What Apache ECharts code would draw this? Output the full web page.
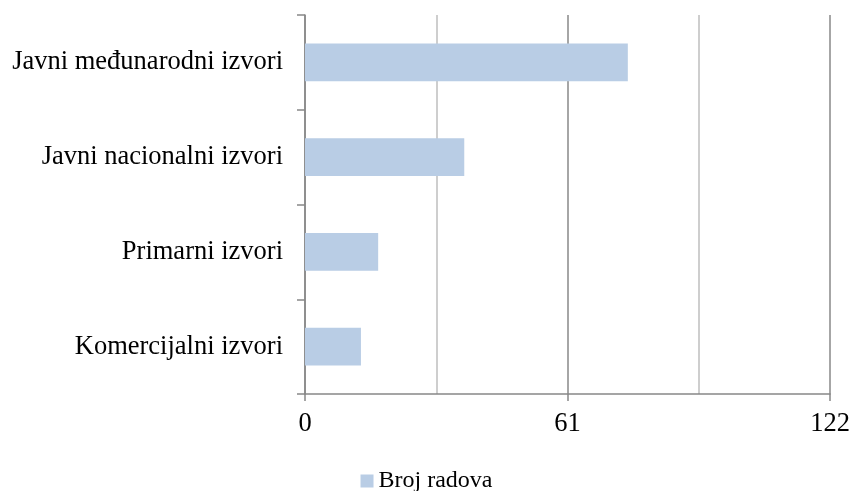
<!DOCTYPE html>
<html><head><meta charset="utf-8">
<script src="https://cdn.jsdelivr.net/npm/echarts@6/dist/echarts.min.js"></script>
<style>html,body{margin:0;padding:0;background:#fff}#c{width:853px;height:491px}</style>
</head><body><div id="c"></div>
<script>
const categories = ["Javni međunarodni izvori", "Javni nacionalni izvori", "Primarni izvori", "Komercijalni izvori"];
const seriesName = "Broj radova";
const values = [75, 37, 17, 13];
const xTicks = [0, 61, 122];

const font = "'Liberation Serif','Times New Roman',serif";
const chart = echarts.init(document.getElementById('c'));
chart.setOption({
  animation: false,
  textStyle: { fontFamily: font },
  grid: { left: 305, right: 22, top: 15, bottom: 97, containLabel: false },
  legend: {
    top: 464, left: 'center', icon: 'rect', itemWidth: 13, itemHeight: 13, itemGap: 5,
    textStyle: { fontFamily: font, fontSize: 24, color: '#000' },
    data: [seriesName]
  },
  xAxis: {
    type: 'value', min: xTicks[0], max: xTicks[2], interval: xTicks[1] - xTicks[0],
    axisLine: { show: true, lineStyle: { color: '#888', width: 1.5 } },
    axisTick: { show: true, length: 7, lineStyle: { color: '#888', width: 1.5 } },
    axisLabel: { color: '#000', fontSize: 26.5, fontFamily: font, margin: 17 },
    splitLine: { show: true, lineStyle: { color: '#888', width: 1.5 } },
    minorTick: { show: false, splitNumber: 2 },
    minorSplitLine: { show: true, lineStyle: { color: '#bfbfbf', width: 1.5 } }
  },
  yAxis: {
    type: 'category', data: categories, inverse: true,
    axisLine: { show: true, lineStyle: { color: '#888', width: 1.5 } },
    axisTick: { show: true, length: 8, alignWithLabel: false, lineStyle: { color: '#888', width: 1.5 } },
    axisLabel: { color: '#000', fontSize: 26.5, fontFamily: font, margin: 22, padding: [4, 0, 0, 0] }
  },
  series: [{
    name: seriesName, type: 'bar', data: values, barWidth: '40%',
    itemStyle: { color: '#B9CDE5' }
  }]
});
</script></body></html>
